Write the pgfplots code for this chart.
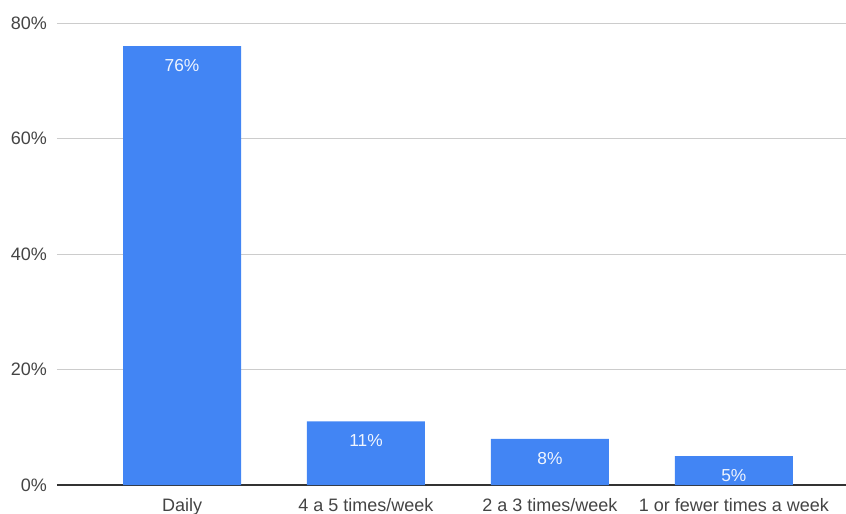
\documentclass[border=0pt]{standalone}
\usepackage{pgfplots}
\pgfplotsset{compat=1.18}
\usepackage{fontspec}
\setmainfont{Liberation Sans}
\definecolor{barblue}{HTML}{4285F4}
\definecolor{gridgray}{HTML}{CCCCCC}
\definecolor{axisgray}{HTML}{333333}
\definecolor{labgray}{HTML}{444444}
\begin{document}
\begin{tikzpicture}[x=1pt,y=1pt]
\begin{axis}[
  scale only axis,
  width=591.75pt, height=346.5pt,
  xmin=-0.68, xmax=3.61,
  ymin=0, ymax=80,
  axis x line*=bottom,
  axis y line*=left,
  x axis line style={axisgray, line width=0.9pt},
  y axis line style={draw=none},
  xtick={0,1,2,3},
  xticklabels={Daily,4 a 5 times/week,2 a 3 times/week,1 or fewer times a week},
  major tick style={draw=none},
  ytick={0,20,40,60,80},
  ymajorgrids,
  major grid style={gridgray, line width=0.7pt},
  yticklabel={\pgfmathprintnumber{\tick}\%},
  /pgf/number format/assume math mode=true,
  ticklabel style={font=\fontsize{13.5pt}{16pt}\selectfont, text=labgray},
  yticklabel style={xshift=-4pt},
  xticklabel style={yshift=-2pt},
  ybar, bar width=88.5pt,
  nodes near coords={\pgfmathprintnumber{\pgfplotspointmeta}\%},
  every node near coord/.append style={anchor=center, yshift=-14.5pt, text=white!92!barblue, font=\fontsize{13pt}{15pt}\selectfont},
  clip=false,
]
\addplot[fill=barblue, draw=none] coordinates {(0,76) (1,11) (2,8) (3,5)};
\end{axis}
\pgfresetboundingbox
\path ([shift={(-42.75pt,-21.75pt)}]current axis.south west) rectangle ([shift={(0pt,17.25pt)}]current axis.north east);
\end{tikzpicture}
\end{document}
